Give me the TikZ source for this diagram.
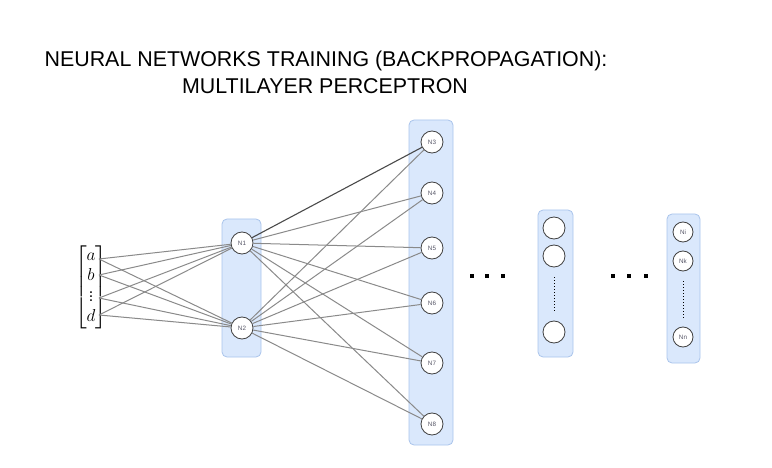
\documentclass[tikz,border=0pt]{standalone}
\usepackage{amsmath}
\usepackage{fontspec}
\setmainfont{Liberation Sans}
\usetikzlibrary{calc}
\definecolor{boxfill}{HTML}{DAE8FC}
\definecolor{boxline}{HTML}{A9C4EB}
\definecolor{edgecol}{HTML}{8A8A8A}
\definecolor{edgedark}{HTML}{4A4A4A}
\definecolor{labelcol}{HTML}{555566}
\tikzset{
  layerbox/.style={draw=boxline, fill=boxfill, rounded corners=5pt, line width=0.8pt, inner sep=0pt},
  neuron/.style={circle, draw=black!75, fill=white, line width=0.8pt, minimum size=22pt, inner sep=0pt, font=\fontsize{6.3}{7}\selectfont, text=labelcol},
  smallneuron/.style={neuron, minimum size=20pt},
  link/.style={draw=edgecol, line width=1pt},
  darklink/.style={draw=edgedark, line width=1.1pt},
  vdotline/.style={draw=black, line width=1pt, dotted},
  dotsq/.style={fill=black},
  titletext/.style={anchor=base, font=\fontsize{21.4}{25}\selectfont},
}
\begin{document}
\begin{tikzpicture}[x=1pt,y=-1pt]
\useasboundingbox (0,0) rectangle (772,468);
% title
\node[titletext] (t1) at (326,67) {NEURAL NETWORKS TRAINING (BACKPROPAGATION):};
\node[titletext] (t2) at (325,94) {MULTILAYER PERCEPTRON};
% input vector
\node (inp) at (91,287) {\fontsize{16}{20}\selectfont $\begin{bmatrix}a\\ b\\ \vdots\\ d\end{bmatrix}$};
\coordinate (ia) at (99,259);
\coordinate (ib) at (99,275);
\coordinate (iv) at (99,298);
\coordinate (id) at (99,315);
% layer boxes
\node[layerbox, minimum width=39pt, minimum height=138pt] (L1) at (241.5,288) {};
\node[layerbox, minimum width=44pt, minimum height=325pt] (L2) at (431,282.5) {};
\node[layerbox, minimum width=35pt, minimum height=147pt] (L3) at (555.5,283.5) {};
\node[layerbox, minimum width=33pt, minimum height=149pt] (L4) at (683.5,288.5) {};
% neurons
\node[neuron] (n1) at (242,243) {N1};
\node[neuron] (n2) at (242,328) {N2};
\node[neuron] (n3) at (432,142) {N3};
\node[neuron] (n4) at (432,193) {N4};
\node[neuron] (n5) at (432,248) {N5};
\node[neuron] (n6) at (432,303) {N6};
\node[neuron] (n7) at (432,363) {N7};
\node[neuron] (n8) at (432,424) {N8};
\node[neuron] (c1) at (554,228) {};
\node[neuron] (c2) at (554,256) {};
\node[neuron] (c3) at (554,332) {};
\node[smallneuron] (ni) at (683,232) {Ni};
\node[smallneuron] (nk) at (683,261) {Nk};
\node[smallneuron] (nn) at (683,337) {Nn};
% dotted vertical lines
\draw[vdotline] ($(c2.south)+(0,10)$) -- ($(c3.north)+(0,-8)$);
\draw[vdotline] ($(nk.south)+(0,10)$) -- ($(nn.north)+(0,-9)$);
% horizontal dots
\foreach \x in {472,487,503,613,629,646}
  \fill[dotsq] (\x-1.6,274.4) rectangle (\x+1.6,277.6);
% input links
\foreach \s in {ia,ib,iv,id}{
  \draw[link] (\s) -- (n1);
  \draw[link] (\s) -- (n2);
}
% hidden links
\draw[darklink] (n1) -- (n3);
\foreach \t in {n4,n5,n6,n7,n8}
  \draw[link] (n1) -- (\t);
\foreach \t in {n3,n4,n5,n6,n7,n8}
  \draw[link] (n2) -- (\t);
\end{tikzpicture}
\end{document}
